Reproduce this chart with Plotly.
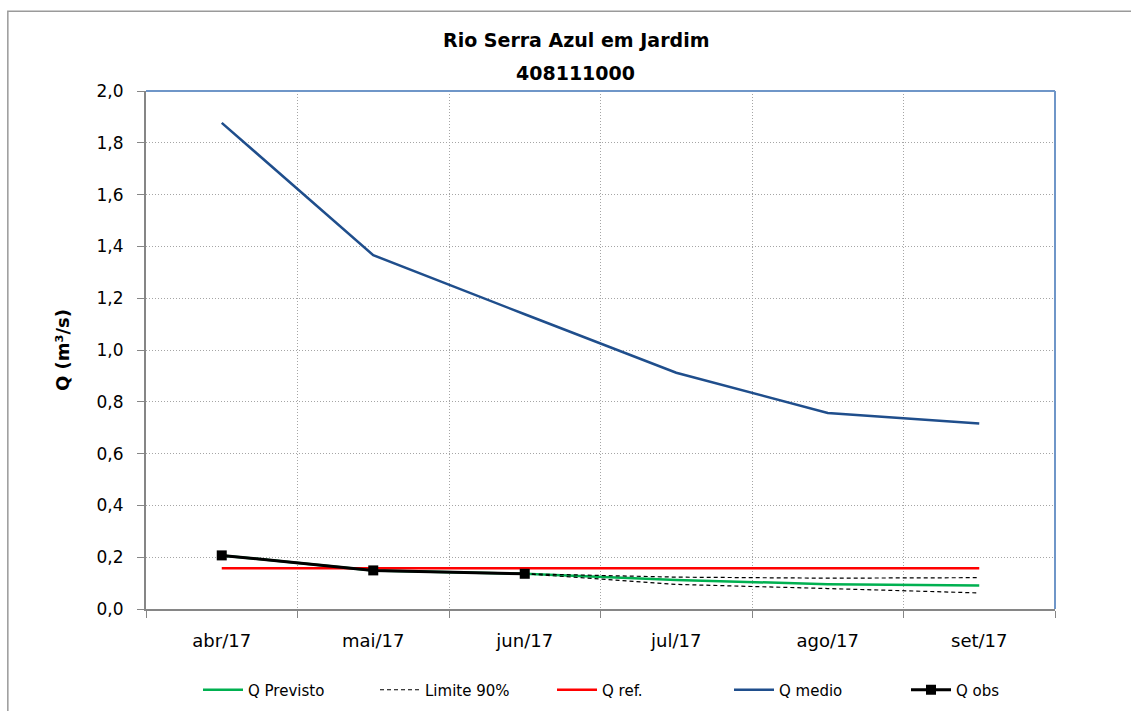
import plotly.graph_objects as go

# Monthly discharge data (m³/s)
meses = ["abr/17", "mai/17", "jun/17", "jul/17", "ago/17", "set/17"]
q_previsto = [0.207, 0.149, 0.136, 0.112, 0.096, 0.091]
lim_sup_meses = ["jun/17", "jul/17", "ago/17", "set/17"]
lim_sup = [0.136, 0.123, 0.119, 0.121]
lim_inf = [0.136, 0.095, 0.079, 0.062]
q_ref = [0.1575, 0.1575, 0.1575, 0.1575, 0.1575, 0.1575]
q_medio = [1.877, 1.366, 1.138, 0.912, 0.757, 0.716]
obs_meses = ["abr/17", "mai/17", "jun/17"]
q_obs = [0.207, 0.149, 0.136]

y_ticks = [0.0, 0.2, 0.4, 0.6, 0.8, 1.0, 1.2, 1.4, 1.6, 1.8, 2.0]

FONT = "DejaVu Sans"
GRID = dict(showgrid=True, gridcolor="#a5a5a5", griddash="1px,2px", gridwidth=1)

fig = go.Figure()

fig.add_trace(go.Scatter(
    x=meses, y=q_previsto, name="Q Previsto", mode="lines",
    line=dict(color="#00b050", width=2.5)))
fig.add_trace(go.Scatter(
    x=lim_sup_meses, y=lim_sup, name="Limite 90%", mode="lines",
    line=dict(color="black", width=1.2, dash="4px,3px"), legendgroup="lim"))
fig.add_trace(go.Scatter(
    x=lim_sup_meses, y=lim_inf, name="Limite 90%", mode="lines",
    line=dict(color="black", width=1.2, dash="4px,3px"), legendgroup="lim",
    showlegend=False))
fig.add_trace(go.Scatter(
    x=meses, y=q_ref, name="Q ref.", mode="lines",
    line=dict(color="#ff0000", width=2.5)))
fig.add_trace(go.Scatter(
    x=meses, y=q_medio, name="Q medio", mode="lines",
    line=dict(color="#1f4e8c", width=2.5)))
fig.add_trace(go.Scatter(
    x=obs_meses, y=q_obs, name="Q obs", mode="lines+markers",
    line=dict(color="black", width=3),
    marker=dict(symbol="square", size=10, color="black")))

fig.update_xaxes(
    type="category", categoryorder="array", categoryarray=meses,
    range=[-0.5, 5.5], tickson="boundaries", ticks="outside", ticklen=7,
    tickcolor="#868686", showline=True, linecolor="#868686", linewidth=2,
    tickfont=dict(family=FONT, size=18, color="black"), ticklabelstandoff=14,
    automargin=False, zeroline=False, **GRID)

fig.update_yaxes(
    range=[0, 2.0], tickvals=y_ticks, tickformat=".1f", ticks="outside",
    ticklen=7, tickcolor="#868686", showline=True, linecolor="#868686",
    linewidth=2, zeroline=False, automargin=False, ticklabelstandoff=10,
    tickfont=dict(family=FONT, size=17, color="black"), **GRID)

fig.update_layout(
    width=1131, height=711,
    margin=dict(l=146, r=76, t=91, b=102),
    paper_bgcolor="white", plot_bgcolor="white",
    separators=",.",
    font=dict(family=FONT, color="black"),
    showlegend=True,
    legend=dict(orientation="h", xref="container", yref="container",
                x=198 / 1131, xanchor="left", y=1 - 690 / 711, yanchor="middle",
                font=dict(family=FONT, size=15, color="black"),
                traceorder="normal", itemwidth=40, entrywidth=122,
                entrywidthmode="pixels", bgcolor="rgba(0,0,0,0)"),
    annotations=[
        dict(text="<b>Rio Serra Azul em Jardim</b>",
             xref="paper", yref="paper", x=0.4725, y=1.0984, xanchor="center",
             yanchor="middle", showarrow=False,
             font=dict(family=FONT, size=19, color="black")),
        dict(text="<b>408111000</b>",
             xref="paper", yref="paper", x=0.4725, y=1.0347, xanchor="center",
             yanchor="middle", showarrow=False,
             font=dict(family=FONT, size=19, color="black")),
        dict(text="<b>Q (m³/s)</b>", xref="paper", yref="paper",
             x=(62 - 146) / 909, y=0.5, xanchor="center", yanchor="middle",
             textangle=-90, showarrow=False,
             font=dict(family=FONT, size=18, color="black")),
    ],
    shapes=[
        # outer chart frame
        dict(type="rect", xref="paper", yref="paper", x0=-0.152, x1=1.2,
             y0=-0.3, y1=1.154, line=dict(color="#9a9a9a", width=1.5),
             layer="below"),
        # top and right edges of the plot area
        dict(type="line", xref="paper", yref="paper", x0=0, x1=1, y0=1, y1=1,
             line=dict(color="#6f96c8", width=2)),
        dict(type="line", xref="paper", yref="paper", x0=1, x1=1, y0=0, y1=1,
             line=dict(color="#6f96c8", width=2)),
    ],
)

fig.write_html("out.html")
